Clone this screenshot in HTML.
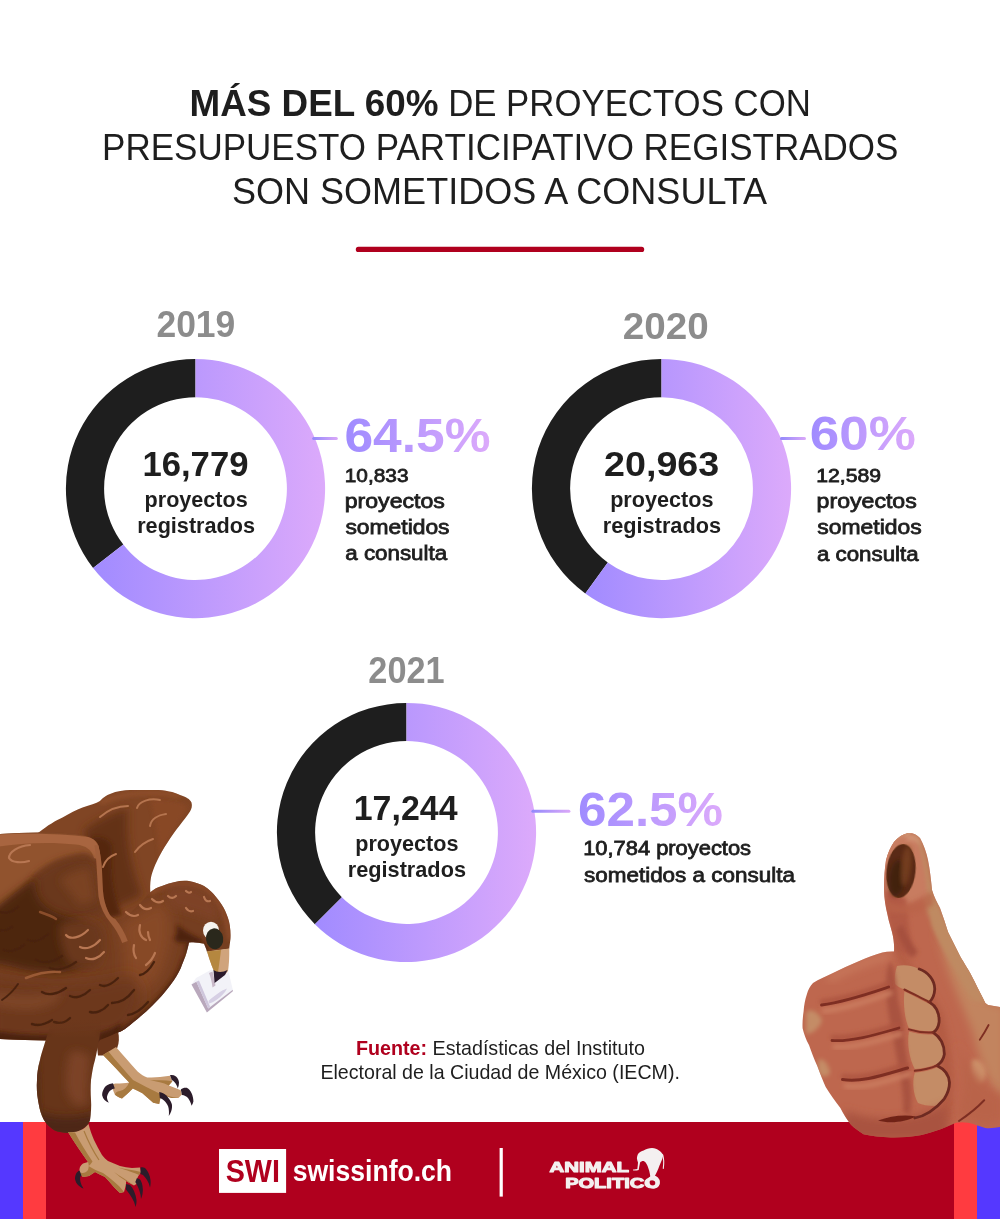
<!DOCTYPE html>
<html lang="es">
<head>
<meta charset="utf-8">
<title>Más del 60% de proyectos con presupuesto participativo registrados son sometidos a consulta</title>
<style>
html,body{margin:0;padding:0;background:#fff;}
body{width:1000px;height:1219px;overflow:hidden;position:relative;font-family:"Liberation Sans",sans-serif;}
svg{position:absolute;left:0;top:0;display:block;}
text{font-family:"Liberation Sans",sans-serif;}
.t{fill:#1e1e1e;font-size:37.2px;}
.b{font-weight:bold;}
.yr{fill:#8c8c8c;font-weight:bold;font-size:36.2px;}
.num{fill:#1e1e1e;font-weight:bold;font-size:35.2px;}
.ctr{fill:#1e1e1e;font-weight:bold;font-size:21.2px;}
.pct{font-weight:bold;font-size:47.5px;}
.lab{fill:#1e1e1e;font-size:20px;stroke:#1e1e1e;stroke-width:0.78px;}
.ln{font-size:18.6px;}
.src{fill:#1e1e1e;font-size:19.8px;}
.swi{fill:#b0001e;font-weight:bold;font-size:30.8px;}
.swt{fill:#fff;font-weight:bold;font-size:30px;}
.ap{fill:#f4f0f0;font-weight:bold;font-size:15.4px;stroke:#f4f0f0;stroke-width:1.1px;stroke-linejoin:round;}
</style>
</head>
<body>
<svg width="1000" height="1219" viewBox="0 0 1000 1219">
<defs>
<linearGradient id="pg" x1="0" x2="1" y1="0" y2="0"><stop offset="0" stop-color="#a18bff"/><stop offset="1" stop-color="#dcaafb"/></linearGradient>
<linearGradient id="pt" x1="0" x2="1" y1="0" y2="0"><stop offset="0" stop-color="#9f8bff"/><stop offset="1" stop-color="#dcaafb"/></linearGradient>
<linearGradient id="dg" x1="0" x2="1" y1="0" y2="0"><stop offset="0" stop-color="#9289fb"/><stop offset="1" stop-color="#dba8f8"/></linearGradient>
</defs>

<rect width="1000" height="1219" fill="#fff"/>
<line x1="358.4" y1="249.4" x2="641.6" y2="249.4" stroke="#b0001e" stroke-width="5.2" stroke-linecap="round"/>
<g id="band">
<rect x="0" y="1122" width="1000" height="97" fill="#b0001e"/>
<rect x="0" y="1122" width="23" height="97" fill="#5538ff"/>
<rect x="23" y="1122" width="23" height="97" fill="#ff3b40"/>
<rect x="954" y="1122" width="23" height="97" fill="#ff3b40"/>
<rect x="977" y="1122" width="23" height="97" fill="#5538ff"/>
</g>
<g id="donuts">
<path d="M93.10 568.03A129.6 129.6 0 0 1 195.50 359.00L195.50 397.20A91.4 91.4 0 0 0 123.28 544.62Z" fill="#1e1e1e"/>
<path d="M195.50 359.00A129.6 129.6 0 1 1 93.10 568.03L123.28 544.62A91.4 91.4 0 1 0 195.50 397.20Z" fill="url(#pg)"/>
<path d="M585.32 593.45A129.6 129.6 0 0 1 661.50 359.00L661.50 397.20A91.4 91.4 0 0 0 607.78 562.54Z" fill="#1e1e1e"/>
<path d="M661.50 359.00A129.6 129.6 0 1 1 585.32 593.45L607.78 562.54A91.4 91.4 0 1 0 661.50 397.20Z" fill="url(#pg)"/>
<path d="M314.86 924.14A129.6 129.6 0 0 1 406.50 702.90L406.50 741.10A91.4 91.4 0 0 0 341.87 897.13Z" fill="#1e1e1e"/>
<path d="M406.50 702.90A129.6 129.6 0 1 1 314.86 924.14L341.87 897.13A91.4 91.4 0 1 0 406.50 741.10Z" fill="url(#pg)"/>
</g>
<rect x="312.2" y="436.9" width="25.6" height="3" rx="1.5" fill="url(#dg)"/>
<rect x="780" y="436.9" width="26" height="3" rx="1.5" fill="url(#dg)"/>
<rect x="531.4" y="809.7" width="39" height="3" rx="1.5" fill="url(#dg)"/>
<rect x="219" y="1149" width="67.1" height="43.9" fill="#fff"/>
<rect x="499.6" y="1148" width="3.2" height="48.6" fill="#fff"/>

<g id="texts">
<text class="t b" x="189.55" y="115.9" textLength="248.87" lengthAdjust="spacingAndGlyphs">MÁS DEL 60%</text>
<text class="t" x="448.14" y="115.9" textLength="362.68" lengthAdjust="spacingAndGlyphs">DE PROYECTOS CON</text>
<text class="t" x="102.09" y="159.9" textLength="796.37" lengthAdjust="spacingAndGlyphs">PRESUPUESTO PARTICIPATIVO REGISTRADOS</text>
<text class="t" x="231.95" y="203.9" textLength="535.21" lengthAdjust="spacingAndGlyphs">SON SOMETIDOS A CONSULTA</text>
<text class="yr" x="156.46" y="337" textLength="78.85" lengthAdjust="spacingAndGlyphs">2019</text>
<text class="yr" x="622.85" y="339.1" textLength="85.95" lengthAdjust="spacingAndGlyphs">2020</text>
<text class="yr" x="368.37" y="683.2" textLength="76.26" lengthAdjust="spacingAndGlyphs">2021</text>
<text class="num" x="142.43" y="475.8" textLength="106.01" lengthAdjust="spacingAndGlyphs">16,779</text>
<text class="ctr" x="144.6" y="507" textLength="103.16" lengthAdjust="spacingAndGlyphs">proyectos</text>
<text class="ctr" x="137.19" y="532.8" textLength="117.87" lengthAdjust="spacingAndGlyphs">registrados</text>
<text class="num" x="604.03" y="475.8" textLength="115.22" lengthAdjust="spacingAndGlyphs">20,963</text>
<text class="ctr" x="610.18" y="507" textLength="103.3" lengthAdjust="spacingAndGlyphs">proyectos</text>
<text class="ctr" x="602.84" y="532.8" textLength="118.19" lengthAdjust="spacingAndGlyphs">registrados</text>
<text class="num" x="353.75" y="819.7" textLength="103.77" lengthAdjust="spacingAndGlyphs">17,244</text>
<text class="ctr" x="355.28" y="850.9" textLength="103.18" lengthAdjust="spacingAndGlyphs">proyectos</text>
<text class="ctr" x="347.76" y="876.7" textLength="118.22" lengthAdjust="spacingAndGlyphs">registrados</text>
<text class="pct" fill="url(#pt)" x="344.43" y="452" textLength="146.09" lengthAdjust="spacingAndGlyphs">64.5%</text>
<text class="lab ln" x="344.79" y="482.4" textLength="63.7" lengthAdjust="spacingAndGlyphs">10,833</text>
<text class="lab" x="344.75" y="508.4" textLength="100.07" lengthAdjust="spacingAndGlyphs">proyectos</text>
<text class="lab" x="345.45" y="534.4" textLength="104.1" lengthAdjust="spacingAndGlyphs">sometidos</text>
<text class="lab" x="345.25" y="560.3" textLength="101.87" lengthAdjust="spacingAndGlyphs">a consulta</text>
<text class="pct" fill="url(#pt)" x="809.79" y="450" textLength="106.01" lengthAdjust="spacingAndGlyphs">60%</text>
<text class="lab ln" x="816.28" y="482.4" textLength="64.85" lengthAdjust="spacingAndGlyphs">12,589</text>
<text class="lab" x="816.62" y="508.4" textLength="100.18" lengthAdjust="spacingAndGlyphs">proyectos</text>
<text class="lab" x="817.36" y="534.4" textLength="104.36" lengthAdjust="spacingAndGlyphs">sometidos</text>
<text class="lab" x="816.93" y="560.5" textLength="101.66" lengthAdjust="spacingAndGlyphs">a consulta</text>
<text class="pct" fill="url(#pt)" x="578.01" y="826.1" textLength="145.02" lengthAdjust="spacingAndGlyphs">62.5%</text>
<text class="lab" x="583.15" y="855" textLength="167.91" lengthAdjust="spacingAndGlyphs">10,784 proyectos</text>
<text class="lab" x="584.03" y="881.5" textLength="210.91" lengthAdjust="spacingAndGlyphs">sometidos a consulta</text>
<text class="src" x="355.95" y="1054.9" textLength="288.98" lengthAdjust="spacingAndGlyphs"><tspan font-weight="bold" fill="#b0001e">Fuente:</tspan> Estadísticas del Instituto</text>
<text class="src" x="320.41" y="1078.7" textLength="359.47" lengthAdjust="spacingAndGlyphs">Electoral de la Ciudad de México (IECM).</text>
<text class="swi" x="225.68" y="1181.5" textLength="54.22" lengthAdjust="spacingAndGlyphs">SWI</text>
<text class="swt" x="292.7" y="1181.4" textLength="159.39" lengthAdjust="spacingAndGlyphs">swissinfo.ch</text>
<text class="ap" x="549.51" y="1172.3" textLength="79.42" lengthAdjust="spacingAndGlyphs">ANIMAL</text>
<text class="ap" x="565.17" y="1187.7" textLength="94.69" lengthAdjust="spacingAndGlyphs">POLITICO</text>
</g>
<g id="elephant">
<path d="M638,1154 C639.5,1152 641.5,1151 643.6,1150.5 C646,1149 649,1148.1 652,1148.1 C654.8,1148.1 657.2,1149 659,1150.5 C661,1151.8 662.5,1153.4 663.2,1155.4 C662.6,1158 661.6,1160.6 660.6,1163 C659.8,1165 659,1166.8 658.4,1168.4 C657.6,1170.4 656.8,1172.2 656,1173.8 L654.3,1176.9 L650.4,1176.9 C650,1174.6 649.6,1172.6 649.2,1170.8 C648.4,1168.3 647.6,1165.8 646.4,1163.8 C645.6,1162.4 644.8,1161.4 643.6,1161 C642.4,1160.8 641,1161.4 640.1,1162.4 C639.5,1165 639.1,1167.5 638.7,1170.1 C636.8,1170.6 635,1170.7 633.1,1170.5 L633.1,1169.5 C634.6,1169.6 636,1169.5 637.3,1169.1 C637.6,1166.8 637.9,1164.6 638,1162.4 C637.4,1161 637,1159.6 636.9,1158.2 C637,1156.7 637.4,1155.3 638,1154 Z" fill="#f4f0f0"/>
<path d="M662.6,1154.6 C663.8,1158 664,1163 663.3,1168.4" stroke="#f4f0f0" stroke-width="1.1" fill="none" stroke-linecap="round"/>
<circle cx="653.4" cy="1182" r="5.1" fill="none" stroke="#f4f0f0" stroke-width="2.6"/>
</g>
<g id="eagle">
<defs>
<filter id="b2" x="-20%" y="-20%" width="140%" height="140%"><feGaussianBlur stdDeviation="2"/></filter>
<filter id="b4" x="-30%" y="-30%" width="160%" height="160%"><feGaussianBlur stdDeviation="4"/></filter>
<filter id="b7" x="-40%" y="-40%" width="180%" height="180%"><feGaussianBlur stdDeviation="7"/></filter>
<filter id="b1" x="-20%" y="-20%" width="140%" height="140%"><feGaussianBlur stdDeviation="0.7"/></filter>
<path id="bw" d="M38,833 C48,825 56,820.5 62.5,817.5 C70,813 76,810 82.5,807.5 C90,805 96,803.5 100,801 C104,797 106.5,795 110,794 C117,791 124,790 130,790 L155,790 C165,790 174,792 180,795 C186,797 190,799 191.5,802.5 C192.5,806 191.5,809 190,811.5 C187,816 183,821 180,825 C175,831 171,837 167.5,842.5 C163,849 160,855 157.5,860 C154,867 152,873 151,877.5 C150,884 150,889 150.5,893 L152,905 L112,930 L80,860 Z"/>
<path id="bd" d="M0,834 C12,833 25,833 37.5,832.5 C50,832 63,832.5 75,834 C81,835 86,836 90,837.5 C95,840 97.5,842 98.5,846 C100.5,854 101.5,862 102,870 C102.3,878 102.5,888 103.5,896 C104.5,903 107,910 110,915 C113,919 118,921 124,918 C134,911 142,901 150,892.5 C154,889 158,887 162,886 C172,882 181,880 189,881 C195,882 200,884 204,886 C209,889 213,893 216,897 C220,902 223,906 225,910.6 C227,915 229,920 229.8,925.4 C230.5,930 230.6,935 230.4,939 C230,943 229.6,946 229.2,948.7 L207,952 C206,948 205,946 204,943.8 C199,942.5 194,942 189,942.6 C188,947 187,952 185.5,956 C184,960 182,964.5 180.6,968.4 C178,974 175,979 170.8,984.4 C167,989.5 163,994.5 158.5,999.2 C154.5,1003.5 150.5,1007.5 146.2,1011.5 C141,1016 134,1022 125,1029 C122,1031 120,1032 117.5,1032.5 C112,1035 106,1038 100,1040 L96,1047 L54,1047 L50,1040.5 L25,1040 L0,1039 Z"/>
<path id="th" d="M52,1020 C46,1040 41,1054 40,1060 C38,1067 37,1074 37,1080 C36.5,1087 37,1094 38,1100 C39,1106 40,1111 42,1116 C44,1121 47,1124.5 50,1127 C53,1130 56.5,1131.5 60,1132 C64,1133 68,1133.3 72,1133 C77,1132 81,1130.5 84,1128 C87,1126 89,1123 90,1120 C91,1113 91.5,1106 91,1100 C90.5,1093 90.5,1086 91,1080 C92,1073 93,1066 95,1060 C97,1052 99,1040 102,1020 Z"/>
<linearGradient id="thg" gradientUnits="userSpaceOnUse" x1="0" y1="1020" x2="0" y2="1038"><stop offset="0" stop-color="#693619" stop-opacity="0"/><stop offset="1" stop-color="#673519" stop-opacity="1"/></linearGradient>
<clipPath id="cbw"><use href="#bw"/></clipPath>
<clipPath id="cbd"><use href="#bd"/></clipPath>
<clipPath id="cth"><use href="#th"/></clipPath>
</defs>
<!-- back wing -->
<use href="#bw" fill="#804524"/>
<g clip-path="url(#cbw)">
<path d="M84,830 C98,820 112,813 128,808 C126,830 128,860 142,895 L100,915 Z" fill="#643218" filter="url(#b4)"/>
<path d="M92,838 C100,836 108,838 112,846 C110,870 112,895 122,915 L100,920 Z" fill="#54280f" filter="url(#b2)"/>
<path d="M150,800 C170,798 185,802 188,808 C178,822 168,840 160,858 C158,840 156,820 150,800 Z" fill="#8a4a27" filter="url(#b2)" opacity=".8"/>
<path d="M100,803 C120,793 150,790 180,796" stroke="#91502b" stroke-width="4" fill="none" filter="url(#b2)"/>
</g>
<g fill="none" stroke="#b5744f" stroke-width="2" stroke-linecap="round" filter="url(#b1)">
<path d="M137,808 C139,801 150,798 160,800"/><path d="M150,826 C151,819 158,815 166,814"/><path d="M135,852 C140,845 147,841 153,839"/><path d="M100,817 C108,810 118,806 128,806"/><path d="M103,867 C105,861 110,856 116,854"/>
</g>
<!-- rear leg (behind) -->
<path d="M96,1038 L118,1031 C119.4,1037 119.2,1043 117.2,1048 C113,1052.5 106,1056 98,1055.5 Z" fill="#6a361b"/>
<path d="M103,1055 L116,1047 C123,1055 131,1064 137.6,1071.6 C141,1074.5 144,1076.5 147.2,1077.6 C153,1077.5 159,1077 164,1076.4 L170,1075.8 L172.4,1081.2 L168.8,1085.4 C172,1086.5 177,1088.5 180.8,1090.2 L182,1094.4 L178.4,1098 L171.2,1098 C167,1096.5 163.5,1095 160.4,1093.5 L160.4,1098 L159.2,1104 L153.2,1102.8 C149.5,1099.5 146,1096.3 142.4,1093.2 C139,1091.5 136,1090 132.8,1088.4 L128,1093.2 L122,1098.6 C119,1097.5 116.5,1096 114.8,1094.4 C113,1091 112.4,1088 112.4,1084.8 C114,1083.8 115,1083.6 116,1083.6 C121,1083.2 125,1083 129.2,1082.4 C120,1073 112,1064 103,1055 Z" fill="#c99c72"/>
<path d="M103,1055 L108.5,1051.6 C116,1061 125,1071 133,1080 C141,1084 150,1089 160.4,1094 L160.4,1098 L159.2,1104 L153.2,1102.8 C149.5,1099.5 146,1096.3 142.4,1093.2 C139,1091.5 136,1090 132.8,1088.4 L128,1093.2 L122,1098.6 C119,1097.5 116.5,1096 114.8,1094.4 C116,1092 118,1091 120,1091 C124,1090 127,1087 129.2,1082.4 C120,1073 112,1064 103,1055 Z" fill="#a87a40"/>
<path d="M150,1080 C157,1082 163,1082.5 168.8,1085.4 L172.4,1081.2 C165,1080 157,1080.5 150,1080 Z M160,1092.5 C166,1095.5 172,1097.5 178.4,1098 L171.2,1098 C167,1096.5 163.5,1095 160,1092.5 Z" fill="#a87a40"/>
<g fill="#2c1c2a">
<path d="M113,1083.2 C108,1084 105,1086 104,1088.4 C102.5,1091 102,1093.5 102.2,1095.6 C103,1099 105.5,1101.5 108.8,1102.8 C107.5,1100.5 106.8,1098.5 107,1096.8 C107.5,1094.5 108.5,1092.5 110,1090.8 C111.5,1089.5 113,1088.8 114.8,1088.4 Z"/>
<path d="M170,1075.2 C172,1074.8 174,1075.2 176,1076.4 C177.8,1078 178.8,1080 179,1082.4 C179,1084.5 178.6,1086.5 177.8,1088.4 C177.2,1086 176.2,1084 174.8,1082.4 C174,1081.4 173,1080.6 171.8,1080 Z"/>
<path d="M180.8,1089.6 C182.5,1088 184.6,1087.4 186.8,1087.8 C189,1088.8 190.5,1090.7 191.6,1093.2 C192.8,1096 193.4,1098.8 193.4,1101.6 C193,1103.2 192.4,1104.6 191.6,1105.8 C190.8,1102.8 189.6,1100.2 188,1098 C186.3,1096.3 184.3,1095.3 182,1095 Z"/>
<path d="M159.2,1092 C162,1092.6 164.4,1093.8 166.4,1095.6 C168.8,1098 170.6,1100.8 171.8,1104 C172.3,1106.5 172,1108.9 171.2,1111.2 C170.6,1113 169.8,1114.6 168.8,1116 C169.2,1112.6 169,1109.4 168.2,1106.4 C167.2,1104 165.8,1102 164,1100.4 C162.8,1099.3 161.4,1098.5 159.8,1098 Z"/>
</g>
<!-- body + front wing -->
<use href="#bd" fill="#753e20"/>
<g clip-path="url(#cbd)">
<path d="M-5,830 L88,835 C98,838 101,846 101,858 L93,858 C90,854 86,853 80,853.5 C70,855 62,858 55,861 C45,866 38,871 32,877 C20,888 10,898 -5,912 Z" fill="#91532f" filter="url(#b2)"/>
<path d="M-5,835 C25,833 60,833.5 88,837 C98,839 100.5,849 100,860 L94,858 C92,850 86,845.5 76,844.5 C50,841.5 20,843 -5,847 Z" fill="#a8653f" filter="url(#b1)"/>
<path d="M34,878 C48,864 68,856 90,856 L97,872 L101,900 L104,914 L70,920 L30,908 Z" fill="#6b381c" filter="url(#b4)"/>
<path d="M60,880 C70,872 80,868 90,868 L96,900 L80,905 Z" fill="#7a4224" filter="url(#b4)"/>
<path d="M-10,912 C8,898 24,886 36,878 C32,898 46,912 70,917 C88,921 94,940 88,962 C72,976 42,973 22,969 C10,966 0,963 -10,963 Z" fill="#4e2511" filter="url(#b4)"/>
<path d="M60,925 C72,918 90,918 100,926 C106,940 104,955 98,966 C88,970 76,968 68,962 C62,950 58,936 60,925 Z" fill="#6a371b" filter="url(#b4)"/>
<path d="M118,925 C135,915 150,905 165,900 C175,920 172,950 160,975 C150,990 135,1000 120,1000 C126,975 126,950 118,925 Z" fill="#874928" filter="url(#b7)"/>
<path d="M-10,978 C30,986 80,990 130,975 C150,985 140,1020 118,1035 L-10,1045 Z" fill="#6d391c" filter="url(#b7)"/>
<path d="M-5,992 C20,996 40,996 60,990 C64,1000 50,1008 30,1010 C15,1010 5,1008 -5,1006 Z" fill="#7d4425" filter="url(#b4)"/>
<path d="M-5,1031 C15,1034 35,1035.5 52,1035 L50,1045 L-5,1045 Z" fill="#4c2410" filter="url(#b2)"/>
<path d="M98,1033 C106,1031 114,1028 121,1023 L122,1045 L98,1045 Z" fill="#4c2410" filter="url(#b2)"/>
<path d="M186,958 C182,970 176,981 170.8,986 C162,998 152,1008 146.2,1013 C138,1020 128,1028 117.5,1034" stroke="#4e2410" stroke-width="6" fill="none" filter="url(#b2)"/>
<path d="M97.5,845 C100,860 100,880 101.5,896 C103,906 107,914 113,921 C118,927 122,934 125,942" stroke="#a05e3a" stroke-width="6" fill="none" filter="url(#b1)"/>
<path d="M186,944 C196,940 204,942 210,950 C200,950 193,952 186,960 Z" fill="#4a2110" filter="url(#b2)"/>
<path d="M176,924 C184,930 192,936 204,940 C198,944 190,944 184,942 C180,944 176,942 174,938 C177,936 178,930 176,924 Z" fill="#4e220e" filter="url(#b2)"/>
<path d="M150,893 C165,884 185,880 205,888 C220,900 228,918 230,940" stroke="#8c4b29" stroke-width="5" fill="none" filter="url(#b2)"/>
<path d="M165,890 C180,884 198,886 210,896 C218,906 220,916 216,922 C205,918 190,910 172,908 Z" fill="#7e4325" filter="url(#b4)"/>
</g>
<g fill="none" stroke="#b87752" stroke-width="2.2" stroke-linecap="round" filter="url(#b1)">
<path d="M30,845 C18,846 9,852 9,858 C12,863 22,863 29,861"/><path d="M66,935 C70,940 80,938 88,930"/><path d="M80,947 C86,950 94,947 100,940"/><path d="M86,958 C92,961 99,958 104,952"/>
<path d="M126,912 C130,916 134,917 138,915"/><path d="M140,905 C143,909 147,910 151,908"/><path d="M152,899 C156,903 160,903 163,901"/><path d="M140,925 C138,932 141,938 146,940"/><path d="M134,945 C133,950 134,955 136,958"/><path d="M146,965 C150,962 153,958 155,953"/>
<path d="M26,978 C36,974 48,971 60,972" stroke="#9a5a36" stroke-width="2.6"/>
<path d="M168,896 C171,899 174,898 176,896"/><path d="M186,891 C188,893 190,893 191,892"/><path d="M186,908 C188,911 190,912 193,911"/><path d="M204,897 C205,900 207,902 210,901"/><path d="M148,932 C148,936 149,938 150,940"/>
<path d="M40,912 C46,914 52,916 56,919" stroke="#8a4d2c" stroke-width="2.4"/>
</g>
<g fill="none" stroke="#4a2210" stroke-width="2.4" stroke-linecap="round" filter="url(#b1)">
<path d="M42,992 C48,996 58,994 66,988"/><path d="M70,996 C76,999 84,996 90,990"/><path d="M100,985 C106,988 112,984 118,978"/><path d="M112,1003 C120,1003 128,998 134,990"/><path d="M128,1015 C136,1014 142,1009 148,1002"/><path d="M140,975 C146,974 150,969 154,962"/><path d="M32,1024 C38,1026 46,1024 52,1020"/><path d="M54,1022 C60,1024 66,1022 70,1018"/><path d="M90,1012 C96,1014 104,1010 108,1005"/>
<path d="M0,912 C6,914 12,912 18,907"/><path d="M28,940 C34,943 42,940 48,934"/><path d="M4,950 C10,953 18,950 24,945"/><path d="M36,960 C44,964 54,962 62,956"/><path d="M50,968 C58,971 68,968 76,962"/><path d="M0,930 C4,931 8,930 12,927"/>
<path d="M2,1000 C8,996 14,990 18,984" stroke-width="2"/>
</g>
<!-- front thigh -->
<use href="#th" fill="url(#thg)"/>
<g clip-path="url(#cth)">
<path d="M70,1052 C78,1050 86,1052 90,1058 C88,1075 87,1092 87,1104 C80,1108 72,1104 68,1096 C64,1084 66,1066 70,1052 Z" fill="#7c4325" filter="url(#b4)"/>
<path d="M36,1110 C50,1118 75,1120 94,1112 L94,1138 L36,1138 Z" fill="#4e2612" filter="url(#b4)"/>
<path d="M36,1040 C42,1060 40,1090 42,1115 L30,1115 L30,1040 Z" fill="#5a2d16" filter="url(#b2)"/>
</g>
<!-- front lower leg + foot -->
<path d="M68,1132 C76,1133 84,1130 88.5,1124 C90,1130 92,1135 94,1140 C96.5,1145 99,1150 102,1155 C104,1157.5 106,1159.5 108,1161 C112,1162.8 116,1164.5 120,1166 C124,1167 128,1167.7 132,1168 L140,1167.5 L141,1172 L139,1175 C138,1176.5 137.5,1177.8 137,1179 L138,1183 L134,1185.5 C131,1184 128.5,1182.5 126,1181 L126,1185 L124,1192 L120,1193 C117.5,1190.5 115,1188.3 113,1186 C110.5,1183 108,1180 105,1177 C101.5,1175.2 98,1173.5 95,1172 L89,1176 L83,1177 C81,1175.5 80,1174 79.5,1172 C79.3,1170 79.5,1168.5 80,1167 C80.8,1165.5 81.8,1164.3 83,1163.5 L88,1162 C81,1152 74,1142 68,1132 Z" fill="#c99c72"/>
<path d="M68,1132 L75,1132.6 C80,1142 86,1152 92.5,1161.5 C91,1163.5 90,1165 88.5,1166 C93,1169 98,1171 103,1173 C110,1178 118,1184 124,1192 L120,1193 C117.5,1190.5 115,1188.3 113,1186 C110.5,1183 108,1180 105,1177 C101.5,1175.2 98,1173.5 95,1172 L89,1176 L83,1177 C81,1175.5 80,1174 79.5,1172 C82,1174 86,1173 88,1170 C89,1167 89,1164.5 88,1162 C81,1152 74,1142 68,1132 Z" fill="#a87a40"/>
<path d="M118,1167.5 C124,1169.5 130,1171 139,1175 L141,1172 C134,1170 126,1169.5 118,1167.5 Z M114,1172 C120,1176 128,1181 134,1185.5 L126,1181 C122,1178.5 118,1175.5 114,1172 Z" fill="#a87a40"/>
<path d="M84,1131 C88,1141 93,1151 99,1160" stroke="#a87a40" stroke-width="1.2" fill="none"/>
<g fill="#2c1c2a">
<path d="M79.5,1170.5 C77.5,1171.5 76.5,1172.8 76,1174 C75.2,1175.7 75,1177.3 75,1179 C75.5,1181.5 76.5,1183.5 78,1185 C79.5,1186.6 81.3,1187.8 83.5,1188.5 C82,1186.3 81,1184.2 80.5,1182 C80.1,1180.3 80,1178.6 80.2,1177 L81.5,1175.5 Z"/>
<path d="M140.6,1167.4 C142.2,1167 143.6,1167.2 145,1168 C146.6,1169.5 147.7,1171.2 148.5,1173 C149.6,1175.3 150.2,1177.6 150.5,1180 C150.8,1182.6 150.6,1185 150,1187.5 C149.4,1184.8 148.4,1182.3 147,1180 C146,1178.2 144.6,1176.5 143,1175 L140.5,1174 Z"/>
<path d="M136.8,1178.3 C138.2,1178.4 139.4,1179 140.5,1180 C141.6,1182 142.2,1184 142.5,1186 C143,1188.7 143,1191.4 142.5,1194 C142.2,1195.8 141.7,1197.4 141,1199 C140.9,1196.2 140.4,1193.6 139.5,1191 C138.8,1188.6 137.8,1186.3 136.5,1184 L135.3,1182 Z"/>
<path d="M125.8,1184.3 C127.4,1184.1 128.8,1184.4 130,1185 C131.7,1186.8 133,1188.8 134,1191 C135.3,1194 136.1,1197 136.5,1200 C136.7,1202.5 136.3,1204.8 135.5,1207 C134.9,1203.8 133.7,1200.8 132,1198 C130.4,1195 128.4,1192.2 126,1189.5 Z"/>
</g>
<!-- paper, beak, eye -->
<path d="M191.5,984.4 L196.1,978.1 L211.1,969.7 L228.3,970.8 L232.8,989.8 L206.9,1012.1 Z" fill="#f2f2f8"/>
<path d="M191.5,984.4 L196.4,981.8 L208.2,1008.6 L232.8,989.8 L232.9,991.2 L206.9,1012.4 Z" fill="#b9a8bc"/>
<path d="M196.4,981.8 L199,980.6 L210,1006.5 L208.2,1008.6 Z" fill="#cfc6dc" filter="url(#b1)"/>
<path d="M208.5,1001 C214,996 221,990.5 227,988.5 C225,993 221,996.5 217,999.5 C214,1002 211,1003 209,1003.5 Z" fill="#d6cfe4" filter="url(#b1)"/>
<path d="M209,973 C211,978 212,983 212.5,987.5 L215.5,985.5 C214.5,980 213.5,975.5 212.5,971.5 Z" fill="#c9b9c9" filter="url(#b1)"/>
<path d="M207,951.5 L229.2,948.5 C229.5,956 229,964 228,971 L224.5,975 L216,975 L213.5,970 C211,964 209,958 207,951.5 Z" fill="#d0a47c"/>
<path d="M207,951.5 L221,950 C220,958 219,966 217.5,975 L216,975 L213.5,970 C211,964 209,958 207,951.5 Z" fill="#b5873f"/>
<path d="M213.5,970 C217,972.5 223,972.5 227.5,970 L225,975 L214.6,983 Z" fill="#2a1a2c"/>
<ellipse cx="211" cy="930.5" rx="8" ry="8.8" fill="#f6f3ee"/>
<ellipse cx="214.6" cy="938.8" rx="8.6" ry="10.5" transform="rotate(-8 214.6 938.8)" fill="#2a281c"/>
</g>
<g id="thumb">
<defs>
<path id="hd" d="M908,833 C912,832.5 917,834.5 920,838 C924,845 926.5,853 928,860 C930,870 931,880 932,890 C934,897 937,902 940,908 C943,916 945.5,924 948,932 C952,940 956,948 960,956 C964,963 969,970 974.8,982 C978,989 982,996 985.3,1003 L988,1005 L1000,1007 L1000,1127 C995,1128 990,1128.5 985.3,1128 C979,1126 974,1124 968.5,1122.7 C964,1122 960,1122 956,1122.7 C951,1125 946,1127 941.2,1129 C934,1131.5 927,1133.5 920.2,1135.3 C910,1137 900,1137.6 890.8,1137.4 C881,1137 872,1136 863.5,1134.2 C859,1131.5 855,1128.5 851,1124.8 C847,1119.5 843.5,1114 840.4,1108 C835,1101 830,1094 825.7,1087 C822.5,1080 820,1073 817.3,1066 C814,1059 811.5,1052 809,1045 C806,1039.5 804,1034 802.6,1028.2 C802.3,1022.5 802.8,1017 803.6,1011.4 C804,1005.5 805,1000 806.8,994.6 C808,990 810,986 813,983 C819,979.5 825.5,976.5 832,973.6 C841,969 850,965 859.3,961 C867,957.5 875,954.8 882.4,952.6 C886,951.6 890,951.2 894,951.5 C894.5,945 893.5,938 892,932 C889.5,924 887.5,916 886,908 C884.5,900 884,893 884,886 C884,877 884.8,868 886,860 C888,853 890.5,847 894,842 C898,837 903,834 908,833 Z"/>
<clipPath id="chd"><use href="#hd"/></clipPath>
</defs>
<use href="#hd" fill="#be674e"/>
<g clip-path="url(#chd)">
<!-- thumb right lighter side -->
<path d="M912,832 C920,834 927,850 931,880 L935,895 C946,925 966,960 990,1003 L972,1000 C958,975 944,952 934,928 C926,910 922,896 918,880 C916,866 916,848 912,832 Z" fill="#bf8a62" filter="url(#b2)"/>
<path d="M890,842 C896,836 904,832 912,833 C906,838 899,842 893,852 C890,858 888,864 887,870 C886,860 887,850 890,842 Z" fill="#cd8f6c" filter="url(#b1)"/>
<path d="M936,930 C950,958 970,990 992,1004 L1005,1006 L1005,1100 C990,1090 980,1060 972,1030 C960,1000 945,968 936,930 Z" fill="#c2845e" filter="url(#b4)"/>
<path d="M934,905 C942,925 955,950 972,980 L986,1003 L972,1000 C958,978 944,950 932,925 Z" fill="#bf8a62" filter="url(#b2)"/>
<path d="M972,1060 C978,1058 984,1062 986,1072 C985,1082 980,1087 974,1084 C970,1078 970,1068 972,1060 Z" fill="#cc9069" filter="url(#b2)"/>
<path d="M896,940 C905,960 925,985 940,1010 C950,1040 955,1080 950,1120 L938,1124 C946,1090 942,1050 932,1020 C922,990 905,970 896,955 Z" fill="#b05841" filter="url(#b4)"/>
<path d="M955,1040 C965,1060 965,1090 958,1115 L985,1125 L1002,1120 L1002,1095 C985,1090 970,1070 955,1040 Z" fill="#b9634a" filter="url(#b4)"/>
<path d="M886,850 C892,838 905,832 916,838 C922,850 926,875 928,896 C915,906 898,908 886,900 C883,885 883,866 886,850 Z" fill="#c87b60" filter="url(#b2)"/>
<!-- thumb tip highlight -->
<path d="M906,834 C914,833 920,838 922,846 C918,842 912,840 906,840 Z" fill="#d19474" filter="url(#b2)"/>
<!-- finger tips (lighter tan) -->
<path d="M897,966 C905,964 913,966 919.2,969 C928,972 935,980 934.7,989.5 C934.5,995 932.5,999 929.5,1002.1 C921,998 912,993 904.4,989.5 C900,988 897,986 895,984 C894,978 895,972 897,966 Z" fill="#c48c66" filter="url(#b1)"/>
<path d="M904.4,991.5 C912,995 921,1000 929.5,1004 C936,1007.5 939.5,1014 939.1,1022 C938.5,1027 936.5,1029.5 933.2,1031 C925,1031.5 917,1030.5 908.9,1028 C905,1020 903,1006 904.4,991.5 Z" fill="#c48c66" filter="url(#b1)"/>
<path d="M908.9,1031.5 C917,1034 925,1035 933.2,1034.4 C940,1039 944.5,1046 944.3,1054.5 C943.5,1059.5 941,1062 936.9,1064 C930,1067 922,1068.5 914.8,1069 C909,1058 907,1044 908.9,1031.5 Z" fill="#c48c66" filter="url(#b1)"/>
<path d="M914.8,1072.8 C922,1072 930,1070.5 936.9,1067.6 C944,1071 949,1076 949.5,1082.6 C949.5,1089 947.5,1094 944.3,1098.8 C941,1102 938,1104.5 935,1106 C928,1106 922,1105 918,1103 C913,1094 912,1082 914.8,1072.8 Z" fill="#c48c66" filter="url(#b1)"/>
<!-- knuckle highlights on left -->
<path d="M806,1012 C812,1008 818,1012 822,1020 C820,1028 812,1034 806,1034 Z" fill="#c48c66" filter="url(#b2)"/>
<path d="M818,1060 C824,1058 828,1064 830,1072 C828,1078 822,1078 818,1072 Z" fill="#c48c66" filter="url(#b2)"/>
<!-- darker vertical fold -->
<path d="M890,960 C897,975 896,990 899,1005 C904,1020 904,1030 905,1045 C908,1060 908,1070 911,1085 C912,1095 912,1105 910,1115 L903,1112 C904,1095 900,1075 897,1060 C894,1040 890,1025 888,1010 C886,995 884,975 890,960 Z" fill="#a9523f" filter="url(#b2)"/>
<!-- bottom shadow -->
<path d="M845,1110 C870,1122 910,1122 945,1105 L950,1140 L845,1140 Z" fill="#a9523f" filter="url(#b4)"/>
<!-- upper thumb shading -->
<path d="M884,890 C886,905 890,928 896,952 L912,956 C910,935 908,915 906,898 Z" fill="#b25a45" filter="url(#b2)"/>
<path d="M896,930 C900,940 905,950 912,958 L918,952 C912,944 906,934 902,924 Z" fill="#a54f3e" filter="url(#b2)"/>
<path d="M886,900 C895,906 905,906 916,900 C925,896 930,892 933,893 L933,905 C922,912 906,916 888,912 Z" fill="#b9634a" filter="url(#b2)" opacity=".7"/>
<!-- finger shading -->
<g fill="none" stroke-linecap="round">
<path d="M822,1002 C846,999 868,991 888,984" stroke="#ad5540" stroke-width="5" filter="url(#b2)"/>
<path d="M833,1037.5 C853,1039 878,1031 898,1025" stroke="#ad5540" stroke-width="5" filter="url(#b2)"/>
<path d="M843.5,1076.5 C863,1080 886,1071 906.5,1065" stroke="#ad5540" stroke-width="5" filter="url(#b2)"/>
<path d="M824,1011 C848,1008 870,1000 890,993" stroke="#ca7c5e" stroke-width="5" filter="url(#b2)"/>
<path d="M835,1047 C855,1048 880,1040 900,1034" stroke="#ca7c5e" stroke-width="5" filter="url(#b2)"/>
<path d="M846,1086 C866,1089 890,1080 909,1074" stroke="#ca7c5e" stroke-width="5" filter="url(#b2)"/>
<path d="M830,978 C850,968 870,960 888,956" stroke="#ca7c5e" stroke-width="6" filter="url(#b4)"/>
</g>
<!-- creases -->
<g fill="none" stroke="#7e2e22" stroke-linecap="round" filter="url(#b1)">
<path d="M821.5,1005 C845,1002 868,994 888.7,987" stroke-width="2.8"/>
<path d="M832,1040.5 C852,1042 878,1034 899,1028" stroke-width="2.8"/>
<path d="M842.5,1079.5 C862,1083 886,1074 907.6,1068" stroke-width="3"/>
<path d="M919.2,969 C928,972 935,980 934.7,989.5 C934.5,995 932.5,999 929.5,1002.1 C936,1006 939.5,1013 939.1,1022 C938.5,1027 936.5,1030.5 933.2,1032.4 C940,1037 944.5,1045 944.3,1054.5 C943.5,1059.5 941,1063 936.9,1065.6 C944,1069 949,1075 949.5,1082.6 C949.5,1089 947.5,1094 944.3,1098.8 C940,1104 935,1108.5 929.5,1112.1 C925,1115 920,1117 914.8,1118" stroke-width="2.8" stroke="#6e2a20"/>
<path d="M904.4,989.5 C912,993 921,998 929.5,1002.1" stroke-width="2"/>
<path d="M908.9,1029.4 C917,1032 925,1033 933.2,1032.4" stroke-width="2"/>
<path d="M914.8,1070.8 C922,1070 930,1068.5 936.9,1065.6" stroke-width="2"/>
<path d="M979.8,1039.8 C983,1035 986,1030 988.6,1025" stroke-width="1.8"/>
<path d="M959,1121 C968,1115 977,1108 984.2,1100.3" stroke-width="2"/>
</g>
<path d="M878,1120.5 C890,1116 905,1114 916,1116.5 C905,1122 890,1124 878,1120.5 Z" fill="#6f2418" filter="url(#b1)"/>
<!-- ink stain -->
<ellipse cx="901" cy="871" rx="14.5" ry="27" transform="rotate(6 901 871)" fill="#5a2c13" filter="url(#b1)"/>
<ellipse cx="897" cy="878" rx="8" ry="18" transform="rotate(6 897 878)" fill="#43200e" filter="url(#b2)"/>
<ellipse cx="906" cy="866" rx="5" ry="20" transform="rotate(6 906 866)" fill="#7a4220" filter="url(#b2)" opacity=".8"/>
</g>
</g>
</svg>
</body>
</html>
